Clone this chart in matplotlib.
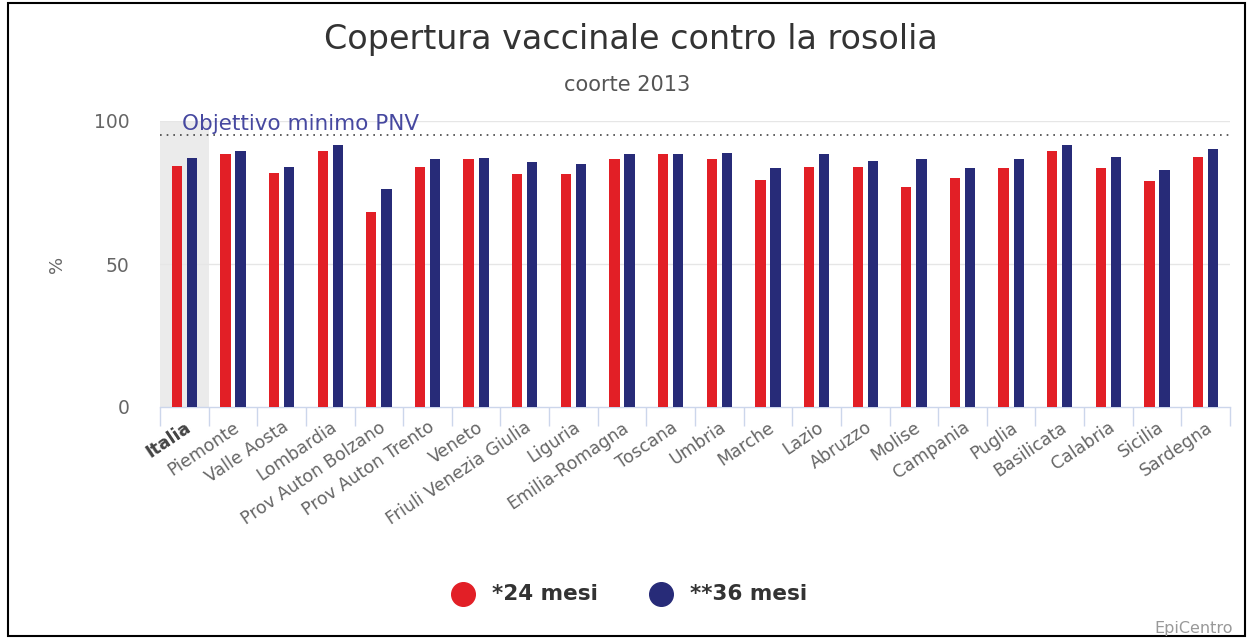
import matplotlib
matplotlib.use("Agg")
import matplotlib.pyplot as plt
from matplotlib.patches import Rectangle
from matplotlib.lines import Line2D
from matplotlib.transforms import ScaledTranslation
import numpy as np

categories = ["Italia", "Piemonte", "Valle Aosta", "Lombardia", "Prov Auton Bolzano",
              "Prov Auton Trento", "Veneto", "Friuli Venezia Giulia", "Liguria",
              "Emilia-Romagna", "Toscana", "Umbria", "Marche", "Lazio", "Abruzzo",
              "Molise", "Campania", "Puglia", "Basilicata", "Calabria", "Sicilia", "Sardegna"]
mesi24 = [84.4, 88.5, 81.8, 89.6, 68.3, 83.9, 86.6, 81.4, 81.4, 86.6, 88.4, 86.6,
          79.5, 83.9, 83.9, 76.8, 80.0, 83.4, 89.6, 83.5, 79.0, 87.3]
mesi36 = [87.2, 89.5, 83.9, 91.6, 76.2, 86.6, 87.2, 85.6, 85.1, 88.5, 88.4, 88.9,
          83.4, 88.5, 86.1, 86.6, 83.4, 86.6, 91.6, 87.3, 82.9, 90.1]
series_names = ["*24 mesi", "**36 mesi"]
target = 95
target_label = "Objettivo minimo PNV"
yticks = [0, 50, 100]

RED = "#E21F26"
BLUE = "#272B78"
FONT = "DejaVu Sans"

W, H = 1251, 639
fig = plt.figure(figsize=(W / 100, H / 100), dpi=100)
fig.patch.set_facecolor("white")

# outer border
fig.add_artist(Rectangle((8 / W, 1 - 636 / H), (1245 - 8) / W, (636 - 3) / H,
                         transform=fig.transFigure, fill=False, edgecolor="black", lw=1.5))

left, right, top, bottom = 160, 1230, 121, 407
ax = fig.add_axes([left / W, 1 - bottom / H, (right - left) / W, (bottom - top) / H])

n = len(categories)
x = np.arange(n)
bw = 0.21
off = 0.155

ax.axvspan(-0.5, 0.5, ymin=0, ymax=1, color="#ebebeb", zorder=0, lw=0)
ax.bar(x - off, mesi24, width=bw, color=RED, zorder=3, label=series_names[0])
ax.bar(x + off, mesi36, width=bw, color=BLUE, zorder=3, label=series_names[1])

ax.axhline(target, color="#444444", lw=1.2, ls=(0, (1, 3)), zorder=4)
ax.text(-0.04, target + 0.5, target_label, color="#4648A0", fontsize=15.5,
        family=FONT, ha="left", va="bottom", zorder=5, clip_on=False)

ax.set_xlim(-0.5, n - 0.5)
ax.set_ylim(0, 100)
ax.set_yticks(yticks)
ax.set_yticklabels([str(v) for v in yticks], fontsize=13.5, color="#666666", family=FONT)
ax.tick_params(axis="y", length=0, pad=22)
for v in yticks[1:]:
    ax.axhline(v, color="#e6e6e6", lw=1, zorder=1)

for s in ["top", "right", "left"]:
    ax.spines[s].set_visible(False)
ax.spines["bottom"].set_color("#ccd6eb")
ax.spines["bottom"].set_linewidth(1)

ax.set_xticks(x)
ax.set_xticklabels(categories, rotation=34, ha="right", va="top", rotation_mode="anchor",
                   fontsize=12.5, color="#666666", family=FONT)
shift = ScaledTranslation(6 / 100, 0, fig.dpi_scale_trans)
for lab in ax.get_xticklabels():
    lab.set_transform(lab.get_transform() + shift)
ax.get_xticklabels()[0].set_fontweight("bold")
ax.get_xticklabels()[0].set_color("#444444")
ax.tick_params(axis="x", which="major", length=0, pad=8)
ax.set_xticks(np.arange(-0.5, n, 1.0), minor=True)
ax.tick_params(axis="x", which="minor", length=14, color="#ccd6eb", width=1)

fig.text(57 / W, 1 - 264 / H, "%", rotation=90, ha="center", va="center",
         fontsize=13, color="#666666", family=FONT)

fig.text(631 / W, 1 - 40 / H, "Copertura vaccinale contro la rosolia", ha="center",
         va="center", fontsize=24, color="#333333", family=FONT)
fig.text(627 / W, 1 - 85 / H, "coorte 2013", ha="center", va="center",
         fontsize=15, color="#555555", family=FONT)

# legend
fig.add_artist(Line2D([463 / W], [1 - 594 / H], marker="o", markersize=17,
                      color=RED, transform=fig.transFigure, lw=0))
fig.text(492 / W, 1 - 594 / H, series_names[0], ha="left", va="center", fontsize=15.5,
         fontweight="bold", color="#333333", family=FONT)
fig.add_artist(Line2D([661 / W], [1 - 594 / H], marker="o", markersize=17,
                      color=BLUE, transform=fig.transFigure, lw=0))
fig.text(690 / W, 1 - 594 / H, series_names[1], ha="left", va="center", fontsize=15.5,
         fontweight="bold", color="#333333", family=FONT)

fig.text(1233 / W, 1 - 629 / H, "EpiCentro", ha="right", va="center", fontsize=11.5,
         color="#999999", family=FONT)

fig.savefig("out.png", dpi=100)
